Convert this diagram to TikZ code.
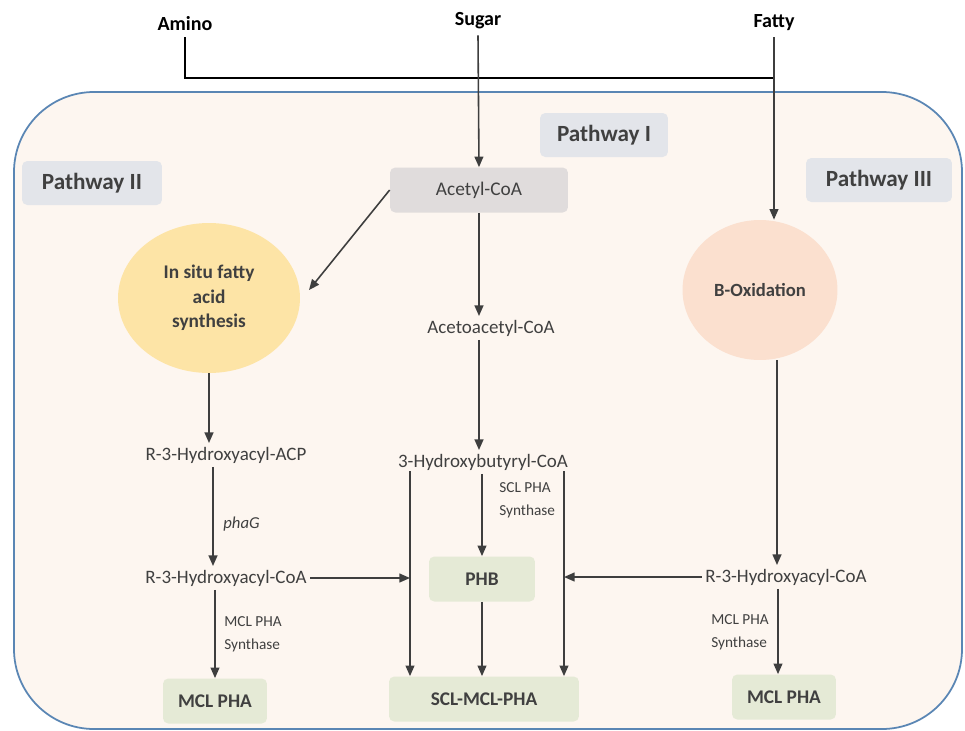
\documentclass[tikz,border=0pt]{standalone}
\usepackage{fontspec}
\setmainfont{Carlito}
\usetikzlibrary{arrows.meta,shapes.geometric}
\definecolor{cellfill}{HTML}{FDF6F0}
\definecolor{cellborder}{HTML}{5A86B4}
\definecolor{tagfill}{HTML}{E3E5EA}
\definecolor{acetylfill}{HTML}{E0DCDC}
\definecolor{synthfill}{HTML}{FDE4A6}
\definecolor{oxfill}{HTML}{FBE0CF}
\definecolor{prodfill}{HTML}{E5EAD6}
\definecolor{textgray}{HTML}{404040}
\definecolor{arrowgray}{HTML}{3E3E3E}
\tikzset{
  arr/.style={draw=arrowgray,line width=0.9pt,-{Triangle[length=6pt,width=5pt]}},
  feed/.style={draw=black,line width=0.9pt},
  source/.style={font=\bfseries\fontsize{11.4}{13}\selectfont},
  metab/.style={text=textgray,font=\fontsize{10.8}{12}\selectfont,inner sep=2pt},
  enzyme/.style={text=textgray,font=\fontsize{8.7}{13}\selectfont,align=left,anchor=west,inner sep=0pt},
  tag/.style={fill=tagfill,rounded corners=3pt,text=textgray,font=\bfseries\fontsize{13.2}{15}\selectfont,minimum height=0.88cm},
  prod/.style={fill=prodfill,rounded corners=3pt,text=textgray,font=\bfseries\fontsize{11}{13}\selectfont,minimum height=0.9cm},
  blob/.style={ellipse,text=textgray,font=\bfseries\fontsize{11}{14}\selectfont,align=center}
}
\begin{document}
\begin{tikzpicture}[x=0.02cm,y=-0.02cm]
\useasboundingbox (0,0) rectangle (965,731);
\draw[draw=cellborder,fill=cellfill,line width=1pt,rounded corners=1.6cm] (14,92) rectangle (962,729);

\node[source] (amino) at (185,24) {Amino};
\node[source] (sugar) at (478,21) {Sugar};
\node[source] (fatty) at (774,23) {Fatty};
\coordinate (fattyknee) at (774,78);

\node[tag,minimum width=2.56cm] (pw1) at (604,135) {Pathway I};
\node[tag,minimum width=2.8cm] (pw2) at (92,183) {Pathway II};
\node[tag,minimum width=2.92cm] (pw3) at (879,180) {Pathway III};

\node[metab,font=\fontsize{11}{12}\selectfont,fill=acetylfill,rounded corners=3pt,minimum width=3.56cm,minimum height=0.9cm] (acetyl) at (479,190) {Acetyl-CoA};
\node[blob,fill=synthfill,minimum width=3.64cm,minimum height=3.0cm] (synth) at (209,298) {In situ fatty\\acid\\synthesis};
\node[blob,font=\bfseries\fontsize{10.6}{14}\selectfont,fill=oxfill,minimum width=3.1cm,minimum height=2.8cm] (oxid) at (760,290) {B-Oxidation};

\node[metab] (acetoacetyl) at (491,328) {Acetoacetyl-CoA};
\node[metab] (hbcoa) at (483,462) {3-Hydroxybutyryl-CoA};
\node[metab] (acpL) at (226,455) {R-3-Hydroxyacyl-ACP};
\node[metab] (coaL) at (226,578) {R-3-Hydroxyacyl-CoA};
\node[metab] (coaR) at (786,577) {R-3-Hydroxyacyl-CoA};

\node[prod,minimum width=2.12cm] (phb) at (482,579) {PHB};
\node[prod,minimum width=3.8cm] (sclmcl) at (484,699) {SCL-MCL-PHA};
\node[prod,minimum width=2.08cm] (mclL) at (215,701) {MCL PHA};
\node[prod,minimum width=2.08cm] (mclR) at (784,697) {MCL PHA};

\node[enzyme,font=\itshape\fontsize{9.5}{13}\selectfont] (phag) at (223,524) {phaG};
\node[enzyme] (synthL) at (224,634) {MCL PHA\\Synthase};
\node[enzyme] (synthM) at (499,500) {SCL PHA\\Synthase};
\node[enzyme] (synthR) at (711,632) {MCL PHA\\Synthase};

\coordinate (hbleft) at (410,471);
\coordinate (hbright) at (564,471);

\draw[feed] (amino.south) -- (amino.south |- fattyknee) -- (fattyknee);
\draw[arr] (sugar.south) -- (acetyl.north);
\draw[arr] (fatty.south) -- (fatty.south |- oxid.north);
\draw[arr] (acetyl.west) -- (309,290);
\draw[arr] (acetyl.south) -- (acetyl.south |- acetoacetyl.north);
\draw[arr] (acetoacetyl.south -| acetyl.south) -- (acetyl.south |- hbcoa.north);
\draw[arr] (hbcoa.south -| phb.north) -- (phb.north);
\draw[arr] (phb.south) -- (phb.south |- sclmcl.north);
\draw[arr] (hbleft) -- (hbleft |- sclmcl.north);
\draw[arr] (hbright) -- (hbright |- sclmcl.north);
\draw[arr] (coaL.east) -- (coaL.east -| hbleft);
\draw[arr] (coaR.west) -- (coaR.west -| hbright);
\draw[arr] (synth.south) -- (synth.south |- acpL.north);
\draw[arr] (acpL.south -| 213,0) -- (coaL.north -| 213,0);
\draw[arr] (coaL.south -| mclL.north) -- (mclL.north);
\draw[arr] (oxid.south -| 777,0) -- (coaR.north -| 777,0);
\draw[arr] (coaR.south -| 778,0) -- (mclR.north -| 778,0);
\end{tikzpicture}
\end{document}
